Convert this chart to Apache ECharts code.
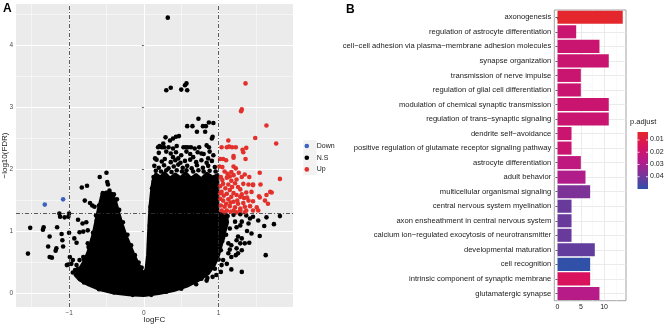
<!DOCTYPE html>
<html>
<head>
<meta charset="utf-8">
<script src="https://cdn.jsdelivr.net/npm/echarts@6/dist/echarts.min.js"></script>
<style>
  html, body { margin: 0; padding: 0; background: #fff; }
  #chart { width: 668px; height: 325px; }
</style>
</head>
<body>
<div id="chart"></div>
<script>
// ---------- panel A: volcano plot ----------
var downPoints = [[-1.325, 1.435], [-1.08, 1.52]];

var upPoints = [
  [1.36, 3.39], [1.31, 2.97], [1.30, 2.94], [1.64, 2.71], [1.49, 2.51], [1.77, 2.42], [1.13, 2.47],
  [1.04, 2.36], [1.11, 2.36], [1.14, 2.37], [1.18, 2.36], [1.23, 2.36], [1.32, 2.32], [1.37, 2.35],
  [1.20, 2.19], [1.36, 2.17], [1.02, 2.17], [1.06, 2.17], [1.20, 2.22], [1.33, 2.28], [1.10, 2.15],
  [1.01, 2.05], [1.05, 2.04], [1.20, 2.05], [1.23, 2.02], [1.17, 1.96], [1.55, 1.95], [1.35, 1.92],
  [1.31, 1.88], [1.82, 1.85], [1.03, 1.88], [1.11, 1.87], [1.15, 1.89], [1.41, 1.88], [1.20, 1.91],
  [1.24, 1.84], [1.17, 1.82], [1.06, 1.77], [1.13, 1.76], [1.02, 1.73], [1.33, 1.77], [1.40, 1.76],
  [1.46, 1.76], [1.56, 1.76], [1.26, 1.72], [1.29, 1.68], [1.04, 1.64], [1.11, 1.61], [1.15, 1.67],
  [1.20, 1.62], [1.37, 1.63], [1.44, 1.64], [1.71, 1.63], [1.64, 1.59], [1.54, 1.57], [1.24, 1.59],
  [1.29, 1.56], [1.34, 1.54], [1.02, 1.53], [1.06, 1.50], [1.13, 1.52], [1.17, 1.56], [1.20, 1.48],
  [1.26, 1.45], [1.33, 1.46], [1.40, 1.50], [1.46, 1.49], [1.55, 1.55], [1.62, 1.50], [1.66, 1.45],
  [1.03, 1.42], [1.08, 1.40], [1.15, 1.41], [1.22, 1.39], [1.29, 1.37], [1.35, 1.40], [1.42, 1.41],
  [1.51, 1.39], [1.04, 1.34], [1.11, 1.34], [1.20, 1.34], [1.29, 1.34], [1.37, 1.34], [1.46, 1.34],
  [1.53, 1.34], [1.46, 1.75], [1.69, 1.64], [1.08, 1.97], [1.12, 1.93], [1.05, 1.83], [1.09, 1.70],
  [1.22, 1.78], [1.27, 1.95], [1.07, 1.58], [1.16, 1.47], [1.10, 1.45], [1.25, 1.50], [1.02, 1.62],
  [1.18, 1.72], [1.31, 1.60], [1.38, 1.55], [1.08, 1.31], [1.16, 1.32], [1.24, 1.31], [1.35, 1.31]
];

var nsPoints = [
  // sparse points above the cloud
  [0.32, 4.45], [0.30, 3.28], [0.36, 3.32], [0.50, 3.29], [0.55, 3.36], [0.57, 3.39], [0.58, 3.28],
  [0.73, 2.82], [0.58, 2.70], [0.65, 2.70], [0.79, 2.70], [0.83, 2.70], [0.87, 2.76], [0.93, 2.75],
  [0.71, 2.61], [0.82, 2.61], [0.29, 2.52], [0.35, 2.47], [0.39, 2.50], [0.43, 2.53], [0.47, 2.54],
  [0.26, 2.42], [0.27, 2.36], [0.19, 2.36], [0.21, 2.38], [0.24, 2.36], [0.33, 2.36], [0.39, 2.34],
  [0.44, 2.38], [0.53, 2.36], [0.56, 2.36], [0.59, 2.36], [0.63, 2.36], [0.68, 2.34], [0.74, 2.36],
  [0.84, 2.39], [0.87, 2.36], [0.91, 2.50], [0.92, 2.53], [0.50, 2.23], [0.46, 2.18], [0.39, 2.20],
  [0.15, 2.18], [0.66, 2.20], [0.77, 2.26], [0.86, 2.18], [0.93, 2.23],
  [0.20, 2.27], [0.30, 2.29], [0.36, 2.26], [0.43, 2.28], [0.57, 2.29], [0.62, 2.25], [0.72, 2.28],
  [0.80, 2.25], [0.88, 2.29],
  [0.17, 2.16], [0.24, 2.13], [0.28, 2.17], [0.36, 2.12], [0.42, 2.15], [0.49, 2.11], [0.55, 2.14],
  [0.62, 2.16], [0.70, 2.12], [0.77, 2.15], [0.84, 2.11], [0.91, 2.14],
  [0.14, 2.06], [0.20, 2.03], [0.27, 2.07], [0.33, 2.02], [0.40, 2.05], [0.46, 2.08], [0.52, 2.03],
  [0.58, 2.06], [0.64, 2.02], [0.71, 2.07], [0.79, 2.03], [0.86, 2.06], [0.95, 2.04],
  [0.16, 1.98], [0.23, 1.97], [0.30, 1.99], [0.37, 1.96], [0.44, 1.99], [0.51, 1.97], [0.57, 1.99],
  [0.66, 1.97], [0.73, 1.99], [0.80, 1.97], [0.88, 1.98], [0.96, 1.97],
  // left lobe surroundings
  [-0.59, 1.88], [-0.50, 1.95], [-0.49, 1.80], [-0.48, 1.76], [-0.83, 1.71], [-0.76, 1.74],
  [-0.79, 1.50], [-0.72, 1.46], [-0.69, 1.42], [-0.66, 1.40], [-0.64, 1.26], [-0.61, 1.25],
  [-0.88, 1.19], [-0.82, 1.13], [-0.77, 1.15], [-0.86, 0.99], [-0.81, 1.00], [-0.75, 1.02],
  [-0.93, 0.89], [-0.90, 0.82], [-0.75, 0.81], [-0.69, 0.86], [-0.72, 0.73], [-0.68, 0.67],
  [-0.99, 0.59], [-0.95, 0.54], [-0.97, 0.48], [-0.90, 0.46], [-0.86, 0.54], [-0.81, 0.59],
  [-1.03, 0.46], [-0.92, 0.38], [-0.83, 0.35], [-0.77, 0.43], [-0.88, 0.30], [-0.79, 0.27], [-0.70, 0.24],
  // far left
  [-1.52, 1.06], [-1.55, 0.645], [-1.35, 1.03], [-1.34, 1.07], [-1.26, 0.92], [-1.28, 0.76],
  [-1.26, 0.59], [-1.23, 0.58], [-1.17, 0.73], [-1.18, 0.69], [-1.16, 1.07], [-1.10, 0.96],
  [-1.09, 0.86], [-1.08, 0.76], [-1.13, 1.29], [-1.12, 1.24], [-1.06, 1.23], [-1.01, 1.24],
  [-1.00, 1.29], [-1.00, 0.98], [-1.01, 0.47],
  // right of the cloud, below the FDR cut
  [1.82, 1.25], [1.64, 1.23], [1.53, 1.18], [1.42, 1.21], [1.40, 1.13], [1.74, 1.12], [1.61, 1.09],
  [1.29, 1.10], [1.31, 1.16], [1.22, 1.16], [1.24, 1.07], [1.38, 1.01], [1.44, 0.97], [1.55, 0.93],
  [1.26, 0.92], [1.31, 0.89], [1.24, 0.86], [1.41, 0.82], [1.35, 0.81], [1.29, 0.81], [1.13, 0.81],
  [1.17, 0.78], [1.24, 0.73], [1.31, 0.70], [1.26, 0.65], [1.23, 0.62], [1.15, 0.71], [1.13, 0.65],
  [1.17, 0.59], [1.63, 0.62], [1.06, 0.54], [1.11, 0.48], [1.04, 0.46], [1.17, 0.39], [1.31, 0.35],
  [1.03, 0.35], [0.97, 0.30], [0.92, 0.27], [0.84, 0.21], [0.77, 0.24],
  [1.46, 1.24], [1.37, 1.26], [1.29, 1.28], [1.20, 1.27], [1.12, 1.25], [1.08, 1.20], [1.15, 1.05],
  [1.10, 0.95], [1.05, 0.85],
  // ragged edges of the cloud
  [-0.33, 1.35], [-0.28, 1.15], [-0.22, 0.95], [-0.17, 0.78], [-0.12, 0.62], [-0.07, 0.50],
  [-0.03, 0.42], [-0.36, 1.52], [-0.40, 1.60], [0.06, 0.50], [0.07, 0.80], [0.08, 1.10],
  [0.09, 1.40], [0.11, 1.70], [0.13, 1.88], [-0.55, 1.62], [-0.46, 1.66], [-0.52, 1.57],
  [-0.44, 1.58], [-0.60, 1.42], [-0.63, 1.18], [-0.68, 0.98], [-0.74, 0.75], [-0.80, 0.55],
  [-0.88, 0.40], [-0.95, 0.34], [-0.80, 0.18], [-0.60, 0.07], [-0.40, 0.02], [-0.15, -0.02],
  [0.10, -0.02], [0.30, 0.03], [0.50, 0.08], [0.70, 0.15], [0.85, 0.25], [0.95, 0.40],
  [1.00, 0.55], [1.03, 0.70], [1.06, 0.90], [1.08, 1.10], [1.10, 1.22]
];

// outline of the solid black (overplotted) part of the N.S cloud
var nsCore = [
  [0.00, -0.03], [-0.20, -0.02], [-0.40, 0.01], [-0.58, 0.06], [-0.74, 0.14], [-0.86, 0.22], [-0.92, 0.30],
  [-0.86, 0.40], [-0.80, 0.52], [-0.75, 0.66], [-0.71, 0.82], [-0.67, 1.00], [-0.64, 1.18], [-0.61, 1.35],
  [-0.58, 1.50], [-0.56, 1.60], [-0.50, 1.64], [-0.43, 1.62], [-0.38, 1.50], [-0.34, 1.32], [-0.29, 1.12],
  [-0.24, 0.94], [-0.19, 0.80], [-0.14, 0.65], [-0.09, 0.52], [-0.04, 0.40], [0.00, 0.32],
  [0.03, 0.40], [0.05, 0.62], [0.06, 0.90], [0.07, 1.15], [0.08, 1.38], [0.10, 1.62], [0.12, 1.82],
  [0.16, 1.93], [0.22, 1.88], [0.28, 1.95], [0.35, 1.86], [0.42, 1.93], [0.49, 1.87], [0.56, 1.95],
  [0.63, 1.86], [0.70, 1.92], [0.77, 1.85], [0.84, 1.94], [0.92, 1.88], [0.99, 1.92],
  [0.99, 1.30], [1.10, 1.29], [1.12, 1.15], [1.08, 0.98], [1.04, 0.80], [1.00, 0.62], [0.94, 0.45],
  [0.86, 0.32], [0.74, 0.22], [0.58, 0.12], [0.40, 0.05], [0.20, 0.00]
];

var xTicksA = [-1, 0, 1];
var yTicksA = [0, 1, 2, 3, 4];
var xMinorA = [-1.5, -0.5, 0.5, 1.5];
var yMinorA = [0.5, 1.5, 2.5, 3.5, 4.5];
var cutFC = [-1, 1];
var cutFDR = 1.3;

// ---------- panel B: GO enrichment ----------
var terms = [
  'axonogenesis',
  'regulation of astrocyte differentiation',
  'cell\u2212cell adhesion via plasma\u2212membrane adhesion molecules',
  'synapse organization',
  'transmission of nerve impulse',
  'regulation of glial cell differentiation',
  'modulation of chemical synaptic transmission',
  'regulation of trans\u2212synaptic signaling',
  'dendrite self\u2212avoidance',
  'positive regulation of glutamate receptor signaling pathway',
  'astrocyte differentiation',
  'adult behavior',
  'multicellular organismal signaling',
  'central nervous system myelination',
  'axon ensheathment in central nervous system',
  'calcium ion\u2212regulated exocytosis of neurotransmitter',
  'developmental maturation',
  'cell recognition',
  'intrinsic component of synaptic membrane',
  'glutamatergic synapse'
];
var counts = [14, 4, 9, 11, 5, 5, 11, 11, 3, 3, 5, 6, 7, 3, 3, 3, 8, 7, 7, 9];
var padj = [0.004, 0.020, 0.020, 0.020, 0.020, 0.020, 0.020, 0.020, 0.020, 0.020,
            0.024, 0.028, 0.038, 0.041, 0.041, 0.041, 0.042, 0.0495, 0.015, 0.027];
var xTicksB = [0, 5, 10];
var xMinorB = [2.5, 7.5, 12.5];
var padjTicks = [0.01, 0.02, 0.03, 0.04];
var padjRange = [0.0035, 0.05];
var padjColors = ['#E3282A', '#D8125E', '#B71A88', '#7A3398', '#2E52AA'];

var FONT = '"Liberation Sans", Arial, sans-serif';
var chart = echarts.init(document.getElementById('chart'));

function minus(v) { return String(v).replace('-', '\u2212'); }

// colour bar legend for p.adjust
var barTop = 132, barH = 57, barX = 637.5, barW = 10.5;
function padjY(v) { return barTop + (v - padjRange[0]) / (padjRange[1] - padjRange[0]) * barH; }
var cbGraphics = [
  { type: 'text', left: 630, top: 118, style: { text: 'p.adjust', font: '7.5px ' + FONT, fill: '#1A1A1A' } },
  {
    type: 'rect', shape: { x: barX, y: barTop, width: barW, height: barH },
    style: {
      fill: {
        type: 'linear', x: 0, y: 0, x2: 0, y2: 1,
        colorStops: padjColors.map(function (c, i) { return { offset: i / (padjColors.length - 1), color: c }; })
      }
    }
  }
];
padjTicks.forEach(function (v) {
  var y = padjY(v);
  cbGraphics.push({ type: 'line', shape: { x1: barX, y1: y, x2: barX + 2, y2: y }, style: { stroke: '#fff', lineWidth: 0.8 } });
  cbGraphics.push({ type: 'line', shape: { x1: barX + barW - 2, y1: y, x2: barX + barW, y2: y }, style: { stroke: '#fff', lineWidth: 0.8 } });
  cbGraphics.push({ type: 'text', left: barX + barW + 2, top: y - 4, style: { text: String(v), font: '7px ' + FONT, fill: '#1A1A1A' } });
});

var option = {
  animation: false,
  textStyle: { fontFamily: FONT },
  grid: [
    { left: 16, top: 4, width: 277, height: 303, show: true, backgroundColor: '#EBEBEB', borderWidth: 0, outerBoundsMode: 'none', containLabel: false },
    { left: 554.3, top: 10, width: 71.7, height: 290.7, show: true, backgroundColor: '#fff', borderColor: '#8C8C8C', borderWidth: 0.8, outerBoundsMode: 'none', containLabel: false }
  ],
  xAxis: [
    {
      gridIndex: 0, type: 'value', min: -1.71, max: 1.995,
      axisLine: { show: false },
      axisTick: { show: true, length: 2, customValues: xTicksA, lineStyle: { color: '#333', width: 0.8 } },
      axisLabel: { customValues: xTicksA, fontSize: 6.5, color: '#4D4D4D', margin: 3, formatter: minus },
      splitLine: { show: true, lineStyle: { color: '#fff', width: 1.1 } },
      name: 'logFC', nameLocation: 'middle', nameGap: 9, nameMoveOverlap: false,
      nameTextStyle: { fontSize: 8, color: '#1A1A1A' }
    },
    {
      gridIndex: 0, type: 'value', min: -1.71, max: 1.995, position: 'bottom',
      axisLine: { show: false }, axisLabel: { show: false },
      axisTick: { show: false, customValues: xMinorA },
      splitLine: { show: true, lineStyle: { color: '#fff', width: 0.5 } }
    },
    {
      gridIndex: 1, type: 'value', min: -0.7, max: 14.7,
      axisLine: { show: false },
      axisTick: { show: true, length: 2, customValues: xTicksB, lineStyle: { color: '#333', width: 0.8 } },
      axisLabel: { customValues: xTicksB, fontSize: 7, color: '#1A1A1A', margin: 3 },
      splitLine: { show: true, lineStyle: { color: '#E6E6E6', width: 0.8 } }
    },
    {
      gridIndex: 1, type: 'value', min: -0.7, max: 14.7, position: 'bottom',
      axisLine: { show: false }, axisLabel: { show: false },
      axisTick: { show: false, customValues: xMinorB },
      splitLine: { show: true, lineStyle: { color: '#F3F3F3', width: 0.5 } }
    }
  ],
  yAxis: [
    {
      gridIndex: 0, type: 'value', min: -0.216, max: 4.67,
      axisLine: { show: false },
      axisTick: { show: true, length: 2, customValues: yTicksA, lineStyle: { color: '#333', width: 0.8 } },
      axisLabel: { customValues: yTicksA, fontSize: 6.5, color: '#4D4D4D', margin: 3 },
      splitLine: { show: true, lineStyle: { color: '#fff', width: 1.1 } },
      name: '\u2212log10(FDR)', nameLocation: 'middle', nameGap: 7, nameRotate: 90, nameMoveOverlap: false,
      nameTextStyle: { fontSize: 8, color: '#1A1A1A' }
    },
    {
      gridIndex: 0, type: 'value', min: -0.216, max: 4.67, position: 'left',
      axisLine: { show: false }, axisLabel: { show: false },
      axisTick: { show: false, customValues: yMinorA },
      splitLine: { show: true, lineStyle: { color: '#fff', width: 0.5 } }
    },
    {
      gridIndex: 1, type: 'category', data: terms, inverse: true,
      axisLine: { show: false },
      axisTick: { show: true, length: 2, alignWithLabel: true, lineStyle: { color: '#333', width: 0.8 } },
      axisLabel: { fontSize: 7.6, color: '#1A1A1A', margin: 3, interval: 0 },
      splitLine: { show: false }
    },
    {
      gridIndex: 1, type: 'value', min: -0.5, max: terms.length - 0.5, inverse: true, position: 'left',
      axisLine: { show: false }, axisLabel: { show: false },
      axisTick: { show: false, customValues: terms.map(function (t, i) { return i; }) },
      splitLine: { show: true, lineStyle: { color: '#E6E6E6', width: 0.8 } }
    }
  ],
  legend: {
    data: ['Down', 'N.S', 'Up'], orient: 'vertical', left: 304.5, top: 141.5,
    itemWidth: 10, itemHeight: 4.6, itemGap: 2.7, icon: 'circle', padding: 0,
    textStyle: { fontSize: 7, color: '#1A1A1A', lineHeight: 9 }
  },
  visualMap: {
    show: false, type: 'continuous', seriesIndex: 4, dimension: 2,
    min: padjRange[0], max: padjRange[1], inRange: { color: padjColors }
  },
  graphic: [
    { type: 'text', left: 3, top: 3, style: { text: 'A', font: 'bold 12px ' + FONT, fill: '#000' } },
    { type: 'text', left: 346, top: 4, style: { text: 'B', font: 'bold 12px ' + FONT, fill: '#000' } },
    { type: 'rect', shape: { x: 303.3, y: 140.2, width: 13.4, height: 35 }, style: { fill: '#F2F2F2' }, z: -1 }
  ].concat(cbGraphics),
  series: [
    {
      type: 'custom', xAxisIndex: 0, yAxisIndex: 0, data: nsCore, encode: { x: 0, y: 1 },
      renderItem: function (params, api) {
        if (params.dataIndex !== 0) return;
        var pts = nsCore.map(function (p) { return api.coord(p); });
        return {
          type: 'polygon', shape: { points: pts },
          style: { fill: '#000', stroke: '#000', lineWidth: 3, lineJoin: 'round' }
        };
      }
    },
    {
      name: 'N.S', type: 'scatter', xAxisIndex: 0, yAxisIndex: 0, data: nsPoints,
      symbolSize: 4.6, itemStyle: { color: '#000', opacity: 1 }
    },
    {
      name: 'Down', type: 'scatter', xAxisIndex: 0, yAxisIndex: 0, data: downPoints,
      symbolSize: 4.6, itemStyle: { color: '#3A62C0', opacity: 1 }
    },
    {
      name: 'Up', type: 'scatter', xAxisIndex: 0, yAxisIndex: 0, data: upPoints,
      symbolSize: 4.6, itemStyle: { color: '#E3302B', opacity: 1 },
      markLine: {
        silent: true, symbol: 'none', label: { show: false },
        lineStyle: { color: '#333', width: 0.8, type: [4, 2, 1, 2] },
        data: cutFC.map(function (v) { return { xAxis: v }; }).concat([{ yAxis: cutFDR }])
      }
    },
    {
      name: 'count', type: 'bar', xAxisIndex: 2, yAxisIndex: 2, barWidth: '90%',
      data: terms.map(function (t, i) { return [counts[i], t, padj[i]]; }),
      encode: { x: 0, y: 1 }
    }
  ]
};
chart.setOption(option);
</script>
</body>
</html>
